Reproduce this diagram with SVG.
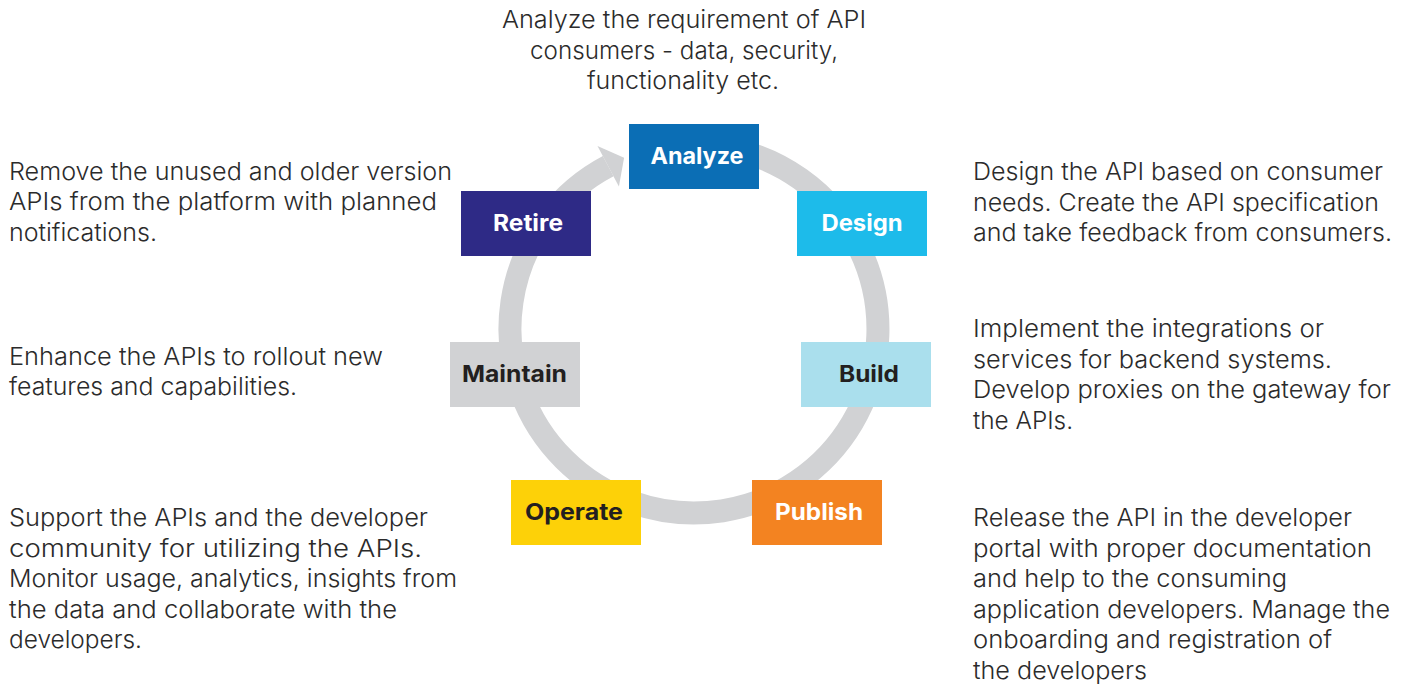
<svg xmlns="http://www.w3.org/2000/svg" width="1410" height="684" viewBox="0 0 1410 684">
  <style>
    .desc { font-family: "Inter", "Open Sans", "Liberation Sans", sans-serif; font-size: 24px; font-weight: 300; fill: #2b2b2b; }
    .mid { text-anchor: middle; }
    .lbl { font-family: "Inter", "Open Sans", "Liberation Sans", sans-serif; font-size: 23px; font-weight: 700; text-anchor: middle; }
    .light { fill: #ffffff; }
    .dark { fill: #231f20; }
    .ring { fill: none; stroke: #d1d2d4; stroke-width: 23; }
  </style>
  <rect width="1410" height="684" fill="#ffffff"/>

  <!-- cycle ring with arrowhead pointing into Analyze -->
  <g id="connectors">
    <path class="ring" d="M 725.95 147.8 A 184 184 0 1 1 608.2 166.2"/>
    <polygon points="597.5,145.9 624.1,157.8 618.9,186.5" fill="#d1d2d4"/>
  </g>

  <!-- stage boxes -->
  <g id="analyze">
    <rect x="629" y="124" width="130" height="65" fill="#0b6eb5"/>
    <text class="lbl light" x="697" y="164" textLength="93" lengthAdjust="spacingAndGlyphs">Analyze</text>
  </g>
  <g id="design">
    <rect x="797" y="191" width="130" height="65" fill="#1dbbea"/>
    <text class="lbl light" x="862" y="231" textLength="81" lengthAdjust="spacingAndGlyphs">Design</text>
  </g>
  <g id="build">
    <rect x="801" y="342" width="130" height="65" fill="#aadfed"/>
    <text class="lbl dark" x="869" y="382" textLength="60" lengthAdjust="spacingAndGlyphs">Build</text>
  </g>
  <g id="publish">
    <rect x="752" y="480" width="130" height="65" fill="#f38321"/>
    <text class="lbl light" x="819" y="520" textLength="88" lengthAdjust="spacingAndGlyphs">Publish</text>
  </g>
  <g id="operate">
    <rect x="511" y="480" width="130" height="65" fill="#fdd108"/>
    <text class="lbl dark" x="574" y="520" textLength="98" lengthAdjust="spacingAndGlyphs">Operate</text>
  </g>
  <g id="maintain">
    <rect x="450" y="342" width="130" height="65" fill="#d1d2d4"/>
    <text class="lbl dark" x="514.5" y="382" textLength="105" lengthAdjust="spacingAndGlyphs">Maintain</text>
  </g>
  <g id="retire">
    <rect x="461" y="191" width="130" height="65" fill="#2e2a86"/>
    <text class="lbl light" x="528" y="231" textLength="70" lengthAdjust="spacingAndGlyphs">Retire</text>
  </g>

  <!-- stage descriptions -->
  <g id="analyze-desc" class="desc mid">
    <text x="684" y="28" textLength="364" lengthAdjust="spacingAndGlyphs">Analyze the requirement of API</text>
    <text x="684" y="59" textLength="308" lengthAdjust="spacingAndGlyphs">consumers - data, security,</text>
    <text x="683" y="89" textLength="192" lengthAdjust="spacingAndGlyphs">functionality etc.</text>
  </g>
  <g id="design-desc" class="desc">
    <text x="973" y="180" textLength="410" lengthAdjust="spacingAndGlyphs">Design the API based on consumer</text>
    <text x="973" y="211" textLength="406" lengthAdjust="spacingAndGlyphs">needs. Create the API specification</text>
    <text x="973" y="241" textLength="419" lengthAdjust="spacingAndGlyphs">and take feedback from consumers.</text>
  </g>
  <g id="build-desc" class="desc">
    <text x="973" y="337" textLength="351" lengthAdjust="spacingAndGlyphs">Implement the integrations or</text>
    <text x="973" y="368" textLength="359" lengthAdjust="spacingAndGlyphs">services for backend systems.</text>
    <text x="973" y="398" textLength="418" lengthAdjust="spacingAndGlyphs">Develop proxies on the gateway for</text>
    <text x="973" y="429" textLength="100" lengthAdjust="spacingAndGlyphs">the APIs.</text>
  </g>
  <g id="publish-desc" class="desc">
    <text x="973" y="526" textLength="379" lengthAdjust="spacingAndGlyphs">Release the API in the developer</text>
    <text x="973" y="557" textLength="399" lengthAdjust="spacingAndGlyphs">portal with proper documentation</text>
    <text x="973" y="587" textLength="314" lengthAdjust="spacingAndGlyphs">and help to the consuming</text>
    <text x="973" y="618" textLength="417" lengthAdjust="spacingAndGlyphs">application developers. Manage the</text>
    <text x="973" y="648" textLength="359" lengthAdjust="spacingAndGlyphs">onboarding and registration of</text>
    <text x="973" y="679" textLength="174" lengthAdjust="spacingAndGlyphs">the developers</text>
  </g>
  <g id="retire-desc" class="desc">
    <text x="9" y="180" textLength="443" lengthAdjust="spacingAndGlyphs">Remove the unused and older version</text>
    <text x="9" y="210" textLength="428" lengthAdjust="spacingAndGlyphs">APIs from the platform with planned</text>
    <text x="9" y="241" textLength="148" lengthAdjust="spacingAndGlyphs">notifications.</text>
  </g>
  <g id="maintain-desc" class="desc">
    <text x="9" y="365" textLength="374" lengthAdjust="spacingAndGlyphs">Enhance the APIs to rollout new</text>
    <text x="9" y="395" textLength="288" lengthAdjust="spacingAndGlyphs">features and capabilities.</text>
  </g>
  <g id="operate-desc" class="desc">
    <text x="9" y="526" textLength="419" lengthAdjust="spacingAndGlyphs">Support the APIs and the developer</text>
    <text x="9" y="557" textLength="413" lengthAdjust="spacingAndGlyphs">community for utilizing the APIs.</text>
    <text x="9" y="587" textLength="448" lengthAdjust="spacingAndGlyphs">Monitor usage, analytics, insights from</text>
    <text x="9" y="618" textLength="388" lengthAdjust="spacingAndGlyphs">the data and collaborate with the</text>
    <text x="9" y="648" textLength="133" lengthAdjust="spacingAndGlyphs">developers.</text>
  </g>
</svg>
